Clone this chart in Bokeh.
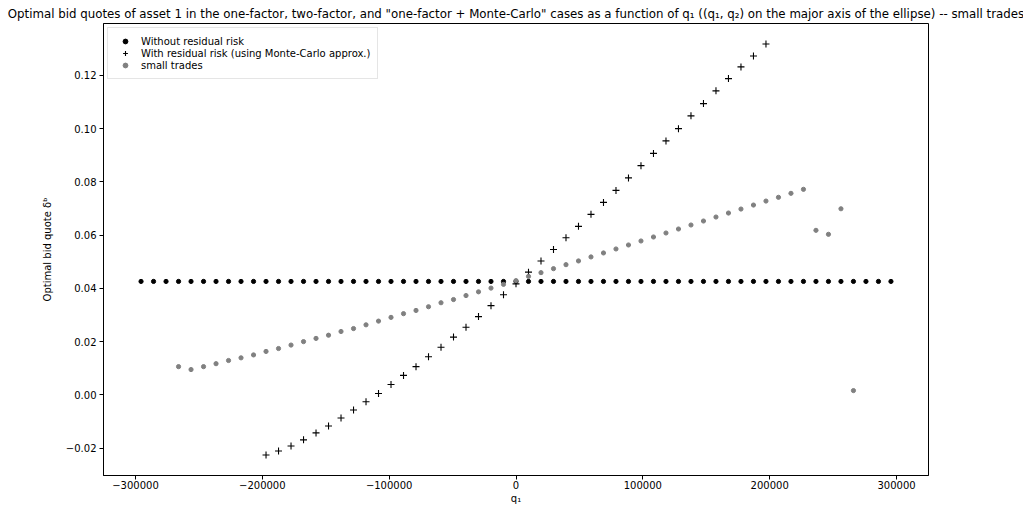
from bokeh.plotting import figure
from bokeh.models import Range1d, FixedTicker, CustomJSTickFormatter, Legend, LegendItem
from bokeh.embed import file_html
from bokeh.resources import INLINE

# ---- data ----
q_black = [-295600, -285747, -275893, -266040, -256187, -246333, -236480, -226627, -216773, -206920,
           -197067, -187213, -177360, -167507, -157653, -147800, -137947, -128093, -118240, -108387,
           -98533, -88680, -78827, -68973, -59120, -49267, -39413, -29560, -19707, -9853, 0,
           9853, 19707, 29560, 39413, 49267, 59120, 68973, 78827, 88680, 98533,
           108387, 118240, 128093, 137947, 147800, 157653, 167507, 177360, 187213, 197067,
           206920, 216773, 226627, 236480, 246333, 256187, 266040, 275893, 285747, 295600]
y_black = [0.0426, 0.0426, 0.0426, 0.0426, 0.0426, 0.0426, 0.0426, 0.0426, 0.0426, 0.0426,
           0.0426, 0.0426, 0.0426, 0.0426, 0.0426, 0.0426, 0.0426, 0.0426, 0.0426, 0.0426,
           0.0426, 0.0426, 0.0426, 0.0426, 0.0426, 0.0426, 0.0426, 0.0426, 0.0426, 0.0426, 0.0426,
           0.0426, 0.0426, 0.0426, 0.0426, 0.0426, 0.0426, 0.0426, 0.0426, 0.0426, 0.0426,
           0.0426, 0.0426, 0.0426, 0.0426, 0.0426, 0.0426, 0.0426, 0.0426, 0.0426, 0.0426,
           0.0426, 0.0426, 0.0426, 0.0426, 0.0426, 0.0426, 0.0426, 0.0426, 0.0426, 0.0426]

q_mc = [-197067, -187213, -177360, -167507, -157653, -147800, -137947, -128093, -118240, -108387,
        -98533, -88680, -78827, -68973, -59120, -49267, -39413, -29560, -19707, -9853, 0,
        9853, 19707, 29560, 39413, 49267, 59120, 68973, 78827, 88680, 98533,
        108387, 118240, 128093, 137947, 147800, 157653, 167507, 177360, 187213, 197067]
y_mc = [-0.0226, -0.0211, -0.0192, -0.0169, -0.0143, -0.0117, -0.0087, -0.0057, -0.0026, 0.0005,
        0.0039, 0.0073, 0.0106, 0.0143, 0.0179, 0.0217, 0.0254, 0.0294, 0.0335, 0.0376, 0.0417,
        0.0461, 0.0503, 0.0546, 0.0590, 0.0633, 0.0678, 0.0723, 0.0768, 0.0815, 0.0861,
        0.0907, 0.0954, 0.1000, 0.1048, 0.1094, 0.1142, 0.1188, 0.1232, 0.1273, 0.1318]

q_small = [-266040, -256187, -246333, -236480, -226627, -216773, -206920,
           -197067, -187213, -177360, -167507, -157653, -147800, -137947, -128093, -118240, -108387,
           -98533, -88680, -78827, -68973, -59120, -49267, -39413, -29560, -19707, -9853, 0,
           9853, 19707, 29560, 39413, 49267, 59120, 68973, 78827, 88680, 98533,
           108387, 118240, 128093, 137947, 147800, 157653, 167507, 177360, 187213, 197067,
           206920, 216773, 226627, 236480, 246333, 256187, 266040]
y_small = [0.0106, 0.0095, 0.0106, 0.0117, 0.0129, 0.0139, 0.0150,
           0.0163, 0.0174, 0.0187, 0.0200, 0.0212, 0.0224, 0.0238, 0.0249, 0.0263, 0.0277,
           0.0291, 0.0305, 0.0317, 0.0331, 0.0346, 0.0358, 0.0373, 0.0387, 0.0401, 0.0415, 0.0429,
           0.0445, 0.0459, 0.0474, 0.0489, 0.0503, 0.0518, 0.0533, 0.0548, 0.0563, 0.0578,
           0.0593, 0.0608, 0.0623, 0.0638, 0.0653, 0.0668, 0.0683, 0.0698, 0.0713, 0.0728,
           0.0742, 0.0757, 0.0772, 0.0618, 0.0603, 0.0699, 0.0016]

x_ticks = [-300000, -200000, -100000, 0, 100000, 200000, 300000]
y_ticks = [-0.02, 0.00, 0.02, 0.04, 0.06, 0.08, 0.10, 0.12]

labels = ["Without residual risk",
          "With residual risk (using Monte-Carlo approx.)",
          "small trades"]
title = ('Optimal bid quotes of asset 1 in the one-factor, two-factor, and "one-factor + Monte-Carlo" '
         'cases as a function of q\u2081 ((q\u2081, q\u2082) on the major axis of the ellipse) -- small trades')

FONT = "DejaVu Sans"

p = figure(frame_width=825, frame_height=452,
           x_range=Range1d(-325200, 325200), y_range=Range1d(-0.0303, 0.1395),
           output_backend="svg", toolbar_location=None,
           min_border_left=103, min_border_right=95, min_border_top=23, min_border_bottom=3)

p.title.text = title
p.title.text_font = FONT
p.title.text_font_size = "11.8px"
p.title.text_font_style = "normal"
p.title.text_color = "black"
p.title.align = "center"
p.title.standoff = 6
p.title.offset = 0

p.xgrid.visible = False
p.ygrid.visible = False
p.outline_line_color = "black"
p.outline_line_alpha = 1.0
p.outline_line_width = 1

p.xaxis.ticker = FixedTicker(ticks=x_ticks)
p.yaxis.ticker = FixedTicker(ticks=y_ticks)
p.xaxis.formatter = CustomJSTickFormatter(
    code="const s = Math.abs(Math.round(tick)).toString(); return (tick < 0 ? '\u2212' : '') + s;")
p.yaxis.formatter = CustomJSTickFormatter(
    code="const s = Math.abs(tick).toFixed(2); return (tick < -1e-12 ? '\u2212' : '') + s;")

for ax in (p.xaxis, p.yaxis):
    ax.major_label_text_font = FONT
    ax.major_label_text_font_size = "10px"
    ax.major_label_text_color = "black"
    ax.axis_label_text_font = FONT
    ax.axis_label_text_font_size = "10px"
    ax.axis_label_text_font_style = "normal"
    ax.axis_label_text_color = "black"
    ax.axis_line_color = "black"
    ax.major_tick_line_color = "black"
    ax.major_tick_out = 4
    ax.major_tick_in = 0
    ax.minor_tick_line_color = None
    ax.major_label_standoff = 3

p.xaxis.major_label_standoff = 1
p.xaxis.axis_label = "q\u2081"
p.xaxis.axis_label_standoff = 1
p.yaxis.axis_label = "Optimal bid quote \u03b4\u1d47"
p.yaxis.axis_label_standoff = 10

r_black = p.scatter(q_black, y_black, marker="circle", size=4.2,
                    fill_color="black", line_color="black")
r_mc = p.scatter(q_mc, y_mc, marker="cross", size=7, line_color="black", line_width=1.1)
r_small = p.scatter(q_small, y_small, marker="circle", size=4.2,
                    fill_color="#808080", line_color="#808080")

legend = Legend(items=[LegendItem(label=labels[0], renderers=[r_black]),
                       LegendItem(label=labels[1], renderers=[r_mc]),
                       LegendItem(label=labels[2], renderers=[r_small])],
                location="top_left")
legend.margin = 4
legend.padding = 7
legend.spacing = 0
legend.glyph_width = 20
legend.glyph_height = 12
legend.label_height = 12
legend.label_standoff = 6
legend.label_text_font = FONT
legend.label_text_font_size = "10px"
legend.label_text_color = "black"
legend.border_line_color = "#cccccc"
legend.border_line_width = 1
legend.background_fill_alpha = 0.8
p.add_layout(legend)

open("out.html", "w").write(file_html(p, INLINE))
